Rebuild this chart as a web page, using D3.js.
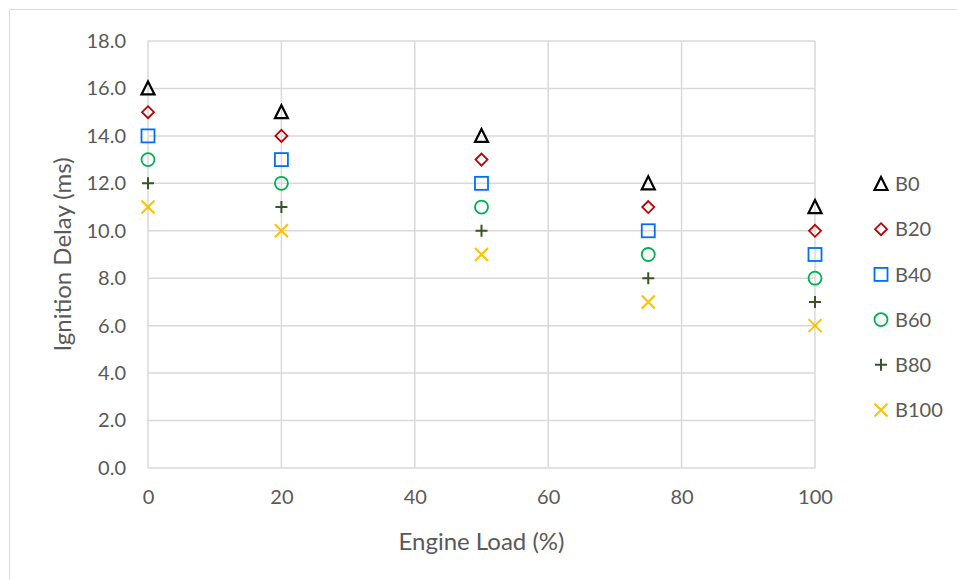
<!DOCTYPE html>
<html>
<head>
<meta charset="utf-8">
<script src="https://cdn.jsdelivr.net/npm/d3@7"></script>
<style>
  html, body { margin: 0; padding: 0; background: #fff; }
  svg { display: block; }
  text { font-family: Lato, "Open Sans", "Liberation Sans", sans-serif; fill: #595959; }
</style>
</head>
<body>
<svg id="chart" width="957" height="580"></svg>
<script>
// Engine load points (%)
const loads = [0, 20, 50, 75, 100];
// Blend names
const blends = ["B0", "B20", "B40", "B60", "B80", "B100"];
// Ignition delay (ms) per blend
const delayB0   = [16, 15, 14, 12, 11];
const delayB20  = [15, 14, 13, 11, 10];
const delayB40  = [14, 13, 12, 10, 9];
const delayB60  = [13, 12, 11, 9, 8];
const delayB80  = [12, 11, 10, 8, 7];
const delayB100 = [11, 10, 9, 7, 6];
const xTicks = [0, 20, 40, 60, 80, 100];
const yTicks = [0, 2, 4, 6, 8, 10, 12, 14, 16, 18];

const seriesValues = [delayB0, delayB20, delayB40, delayB60, delayB80, delayB100];
const colors = ["#000000", "#C00000", "#0070F0", "#00B050", "#375623", "#FFC000"];
const shapes = ["triangle", "diamond", "square", "circle", "plus", "cross"];

const svg = d3.select("#chart");

// Chart frame
svg.append("rect")
  .attr("x", 9.5).attr("y", 9.5)
  .attr("width", 960).attr("height", 580)
  .attr("fill", "none").attr("stroke", "#d9d9d9").attr("stroke-width", 1);

const x = d3.scaleLinear().domain([0, 100]).range([148, 815]);
const y = d3.scaleLinear().domain([0, 18]).range([468, 41]);

// Gridlines
const grid = svg.append("g").attr("stroke", "#d9d9d9").attr("stroke-width", 1.5);
xTicks.forEach(t => {
  grid.append("line")
    .attr("x1", x(t)).attr("x2", x(t))
    .attr("y1", y(18)).attr("y2", y(0));
});
yTicks.forEach(t => {
  grid.append("line")
    .attr("x1", x(0)).attr("x2", x(100))
    .attr("y1", y(t)).attr("y2", y(t));
});

// Axes (labels only; lines come from the grid)
const xAxis = svg.append("g")
  .attr("transform", `translate(0,${y(0)})`)
  .call(d3.axisBottom(x).tickValues(xTicks).tickSize(0).tickPadding(22).tickFormat(d3.format("d")));
const yAxis = svg.append("g")
  .attr("transform", `translate(${x(0)},0)`)
  .call(d3.axisLeft(y).tickValues(yTicks).tickSize(0).tickPadding(22).tickFormat(d3.format(".1f")));
[xAxis, yAxis].forEach(a => {
  a.select(".domain").remove();
  a.selectAll("text")
    .style("font-family", "Lato, 'Open Sans', 'Liberation Sans', sans-serif")
    .style("font-size", "20px").attr("fill", "#595959");
});

// Axis titles
svg.append("text")
  .attr("x", (x(0) + x(100)) / 2).attr("y", 550)
  .attr("text-anchor", "middle").style("font-size", "24px")
  .text("Engine Load (%)");
svg.append("text")
  .attr("transform", `translate(71,${y(9)}) rotate(-90)`)
  .attr("text-anchor", "middle").style("font-size", "24px")
  .text("Ignition Delay (ms)");

// Marker drawing
function drawMarker(g, shape, color) {
  const sw = 1.8;
  if (shape === "triangle") {
    g.append("path").attr("d", "M0,-7 L6.5,6 L-6.5,6 Z")
      .attr("fill", "none").attr("stroke", color).attr("stroke-width", 2.2);
  } else if (shape === "diamond") {
    g.append("path").attr("d", "M0,-6 L6,0 L0,6 L-6,0 Z")
      .attr("fill", "none").attr("stroke", color).attr("stroke-width", sw);
  } else if (shape === "square") {
    g.append("rect").attr("x", -6.5).attr("y", -6.5).attr("width", 13).attr("height", 13)
      .attr("fill", "none").attr("stroke", color).attr("stroke-width", sw);
  } else if (shape === "circle") {
    g.append("circle").attr("r", 6.5)
      .attr("fill", "none").attr("stroke", color).attr("stroke-width", sw);
  } else if (shape === "plus") {
    g.append("path").attr("d", "M-6,0 L6,0 M0,-6 L0,6")
      .attr("fill", "none").attr("stroke", color).attr("stroke-width", 2);
  } else if (shape === "cross") {
    g.append("path").attr("d", "M-6.5,-6.5 L6.5,6.5 M6.5,-6.5 L-6.5,6.5")
      .attr("fill", "none").attr("stroke", color).attr("stroke-width", 2);
  }
}

// Series points
blends.forEach((name, i) => {
  const g = svg.append("g").attr("class", "series-" + name);
  seriesValues[i].forEach((v, j) => {
    const m = g.append("g").attr("transform", `translate(${x(loads[j])},${y(v)})`);
    drawMarker(m, shapes[i], colors[i]);
  });
});

// Legend
const legendY = d3.scalePoint().domain(blends).range([184, 410]);
blends.forEach((name, i) => {
  const m = svg.append("g").attr("transform", `translate(881,${legendY(name)})`);
  drawMarker(m, shapes[i], colors[i]);
  svg.append("text")
    .attr("x", 895).attr("y", legendY(name))
    .attr("dy", "0.36em").style("font-size", "20px")
    .text(name);
});
</script>
</body>
</html>
